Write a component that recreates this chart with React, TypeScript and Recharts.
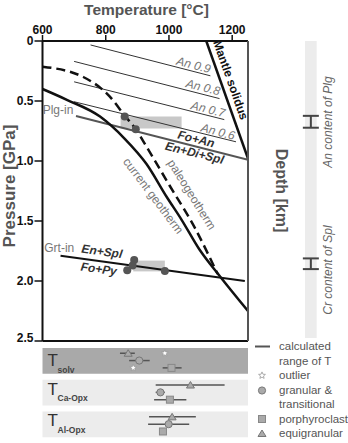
import {
  ComposedChart,
  ErrorBar,
  Line,
  ReferenceArea,
  ReferenceDot,
  Scatter,
  XAxis,
  YAxis,
} from "recharts";

const FONT = "'Liberation Sans', Arial, Helvetica, sans-serif";

// axes
const T_DOMAIN = [600, 1250];
const T_MAJOR = [600, 800, 1000, 1200];
const T_MINOR = [700, 900, 1100];
const P_TICKS = [0, 0.5, 1, 1.5, 2, 2.5];
const DEPTH_TICKS = [20, 40, 60];
const DEPTH_DOMAIN = [1.5, 75];

// P-T curves (T in °C, P in GPa)
const CURRENT_GEOTHERM = [
  { t: 600, p: 0.4 },
  { t: 677, p: 0.49 },
  { t: 782, p: 0.63 },
  { t: 861, p: 0.817 },
  { t: 929, p: 1.025 },
  { t: 993, p: 1.3 },
  { t: 1040, p: 1.49 },
  { t: 1097, p: 1.74 },
  { t: 1161, p: 1.96 },
  { t: 1250, p: 2.25 },
];
const PALEOGEOTHERM = [
  { t: 600, p: 0.214 },
  { t: 729, p: 0.3 },
  { t: 813, p: 0.464 },
  { t: 861, p: 0.625 },
  { t: 897, p: 0.742 },
  { t: 929, p: 0.881 },
  { t: 1001, p: 1.2 },
  { t: 1082, p: 1.558 },
  { t: 1154, p: 1.942 },
];
const MANTLE_SOLIDUS = [
  { t: 1118, p: 0 },
  { t: 1250, p: 0.98 },
];
const PLG_IN = [
  { t: 706, p: 0.625 },
  { t: 1250, p: 0.99 },
];
const GRT_IN = [
  { t: 657, p: 1.79 },
  { t: 1240, p: 2.0 },
];
const AN_ISOPLETHS = [
  { name: "An 0.9", data: [{ t: 752, p: 0.033 }, { t: 1131, p: 0.29 }] },
  { name: "An 0.8", data: [{ t: 700, p: 0.17 }, { t: 1160, p: 0.48 }] },
  { name: "An 0.7", data: [{ t: 700, p: 0.34 }, { t: 1175, p: 0.655 }] },
  { name: "An 0.6", data: [{ t: 700, p: 0.506 }, { t: 1212, p: 0.84 }] },
];

// equilibration fields and samples
const PLG_FIELD = { t1: 847, t2: 1040, p1: 0.63, p2: 0.73 };
const SPL_FIELD = { t1: 887, t2: 987, p1: 1.83, p2: 1.92 };
const PLG_SAMPLES = [
  { t: 860, p: 0.63 },
  { t: 895, p: 0.736 },
];
const SPL_SAMPLES = [
  { t: 890, p: 1.825 },
  { t: 885, p: 1.87 },
  { t: 868, p: 1.91 },
  { t: 987, p: 1.917 },
];

// thermometers: method index, mean T, range
const METHODS = ["solv", "Ca-Opx", "Al-Opx"];
const EQUIGRANULAR = [
  { m: 0, t: 871, lo: 845, hi: 892 },
  { m: 1, t: 1068, lo: 958, hi: 1176 },
  { m: 2, t: 1010, lo: 937, hi: 1085 },
];
const GRANULAR = [
  { m: 0, t: 906, lo: 874, hi: 939 },
  { m: 1, t: 973, lo: 958, hi: 987 },
  { m: 2, t: 999, lo: 934, hi: 1064 },
];
const PORPHYROCLAST = [
  { m: 0, t: 1008, lo: 980, hi: 1040 },
  { m: 1, t: 1003, lo: 953, hi: 1055 },
  { m: 2, t: 981, lo: 981, hi: 981 },
];
const OUTLIERS = [
  { m: 0, row: 2, t: 887 },
  { m: 0, row: 0, t: 987 },
];

const LINE_LABELS = [
  { text: "An 0.9", t: 1078, p: 0.2, rot: 14.5, kind: "an" },
  { text: "An 0.8", t: 1108, p: 0.386, rot: 14.2, kind: "an" },
  { text: "An 0.7", t: 1124, p: 0.569, rot: 14.1, kind: "an" },
  { text: "An 0.6", t: 1155, p: 0.756, rot: 14.4, kind: "an" },
  { text: "Mantle solidus", t: 1195, p: 0.325, rot: 70.6, kind: "solidus" },
  { text: "Plg-in", t: 649, p: 0.571, rot: 0, kind: "plain" },
  { text: "Fo+An", t: 1086, p: 0.817, rot: 14, kind: "phase" },
  { text: "En+Di+Spl", t: 1081, p: 0.933, rot: 14, kind: "phase" },
  { text: "current geotherm", t: 950, p: 1.29, rot: 53, kind: "plain" },
  { text: "paleogeotherm", t: 1072, p: 1.28, rot: 58, kind: "plain" },
  { text: "Grt-in", t: 653, p: 1.725, rot: 0, kind: "plain" },
  { text: "En+Spl", t: 788, p: 1.754, rot: 8, kind: "phase" },
  { text: "Fo+Py", t: 778, p: 1.9, rot: 8, kind: "phase" },
];

const LABEL_STYLE: Record<string, any> = {
  an: { fontSize: 12, fontStyle: "italic", fill: "#777" },
  solidus: { fontSize: 12, fontWeight: 700, fill: "#111" },
  plain: { fontSize: 12, fill: "#777" },
  phase: { fontSize: 12, fontWeight: 700, fontStyle: "italic", fill: "#333" },
};

const rowY = (m: number, row: number) => m + 0.165 + row * 0.23;
const withRange = (rows: typeof GRANULAR, row: number) =>
  rows.map((d) => ({ t: d.t, y: rowY(d.m, row), err: [d.t - d.lo, d.hi - d.t] }));

function starPoints(cx: number, cy: number, ro: number, ri: number) {
  const pts: string[] = [];
  for (let i = 0; i < 10; i++) {
    const r = i % 2 === 0 ? ro : ri;
    const a = -Math.PI / 2 + (i * Math.PI) / 5;
    pts.push(`${cx + r * Math.cos(a)},${cy + r * Math.sin(a)}`);
  }
  return pts.join(" ");
}

const Tri = ({ cx, cy }: any) => (
  <polygon
    points={`${cx - 4},${cy + 3} ${cx + 4},${cy + 3} ${cx},${cy - 3.5}`}
    fill="#aaa"
    stroke="#777"
  />
);
const Dot = ({ cx, cy }: any) => <circle cx={cx} cy={cy} r={3.6} fill="#aaa" stroke="#777" />;
const Sq = ({ cx, cy }: any) => (
  <rect x={cx - 3.5} y={cy - 3.5} width={7} height={7} fill="#aaa" stroke="#888" />
);
const Star = ({ cx, cy }: any) => (
  <polygon points={starPoints(cx, cy, 3.6, 1.6)} fill="#fff" stroke="#999" strokeWidth={0.8} />
);
const Sample = ({ cx, cy }: any) => <circle cx={cx} cy={cy} r={4} fill="#555" />;
const Nothing = () => <g />;

function MainChart() {
  const tick = { fontSize: 12, fontWeight: 700, fill: "#111" };
  // axes get a 1px box so they render; margins make up the rest of the plot offset
  return (
    <ComposedChart
      width={348}
      height={345}
      margin={{ top: 39, right: 99, bottom: 2, left: 41.5 }}
    >
      <XAxis
        xAxisId="t"
        orientation="top"
        type="number"
        dataKey="t"
        domain={T_DOMAIN}
        allowDataOverflow
        ticks={T_MAJOR}
        tickSize={6}
        tickMargin={1}
        height={1}
        tick={tick}
        axisLine={{ stroke: "#111", strokeWidth: 2 }}
        tickLine={{ stroke: "#111", strokeWidth: 1.5 }}
      />
      <XAxis
        xAxisId="tMinor"
        orientation="top"
        type="number"
        domain={T_DOMAIN}
        ticks={T_MINOR}
        tickSize={3}
        height={1}
        tickFormatter={() => ""}
        axisLine={false}
        tickLine={{ stroke: "#111" }}
      />
      <XAxis
        xAxisId="tBottom"
        orientation="bottom"
        type="number"
        domain={T_DOMAIN}
        ticks={T_MAJOR}
        tickSize={6}
        height={1}
        tickFormatter={() => ""}
        axisLine={{ stroke: "#111", strokeWidth: 2 }}
        tickLine={{ stroke: "#111", strokeWidth: 1.5 }}
      />
      <XAxis
        xAxisId="tBottomMinor"
        orientation="bottom"
        type="number"
        domain={T_DOMAIN}
        ticks={T_MINOR}
        tickSize={3}
        height={1}
        tickFormatter={() => ""}
        axisLine={false}
        tickLine={{ stroke: "#111" }}
      />
      <YAxis
        yAxisId="p"
        type="number"
        dataKey="p"
        domain={[0, 2.5]}
        allowDataOverflow
        reversed
        ticks={P_TICKS}
        tickSize={8}
        tickMargin={1}
        width={1}
        tick={tick}
        tickFormatter={(v: number) => (v === 0 ? "0" : v.toFixed(1))}
        axisLine={{ stroke: "#111", strokeWidth: 2 }}
        tickLine={{ stroke: "#111", strokeWidth: 1.5 }}
      />
      <YAxis
        yAxisId="depth"
        orientation="right"
        type="number"
        domain={DEPTH_DOMAIN}
        reversed
        ticks={DEPTH_TICKS}
        tickSize={6}
        tickMargin={3}
        width={1}
        tick={{ ...tick, fill: "#444" }}
        axisLine={{ stroke: "#555", strokeWidth: 2 }}
        tickLine={{ stroke: "#555", strokeWidth: 1.5 }}
      />

      <ReferenceArea
        xAxisId="t"
        yAxisId="p"
        x1={PLG_FIELD.t1}
        x2={PLG_FIELD.t2}
        y1={PLG_FIELD.p1}
        y2={PLG_FIELD.p2}
        fill="#c8c8c8"
        fillOpacity={1}
        stroke="none"
      />
      <ReferenceArea
        xAxisId="t"
        yAxisId="p"
        x1={SPL_FIELD.t1}
        x2={SPL_FIELD.t2}
        y1={SPL_FIELD.p1}
        y2={SPL_FIELD.p2}
        fill="#c8c8c8"
        fillOpacity={1}
        stroke="none"
      />

      {AN_ISOPLETHS.map((a) => (
        <Line
          key={a.name}
          xAxisId="t"
          yAxisId="p"
          data={a.data}
          dataKey="p"
          type="linear"
          stroke="#333"
          strokeWidth={1}
          dot={false}
          isAnimationActive={false}
        />
      ))}
      <Line
        xAxisId="t"
        yAxisId="p"
        data={PLG_IN}
        dataKey="p"
        type="linear"
        stroke="#555"
        strokeWidth={2}
        dot={false}
        isAnimationActive={false}
      />
      <Line
        xAxisId="t"
        yAxisId="p"
        data={GRT_IN}
        dataKey="p"
        type="linear"
        stroke="#111"
        strokeWidth={2}
        dot={false}
        isAnimationActive={false}
      />
      <Line
        xAxisId="t"
        yAxisId="p"
        data={MANTLE_SOLIDUS}
        dataKey="p"
        type="linear"
        stroke="#111"
        strokeWidth={2.5}
        dot={false}
        isAnimationActive={false}
      />
      <Line
        xAxisId="t"
        yAxisId="p"
        data={CURRENT_GEOTHERM}
        dataKey="p"
        type="monotone"
        stroke="#111"
        strokeWidth={2.5}
        dot={false}
        isAnimationActive={false}
      />
      <Line
        xAxisId="t"
        yAxisId="p"
        data={PALEOGEOTHERM}
        dataKey="p"
        type="monotone"
        stroke="#111"
        strokeWidth={2.5}
        strokeDasharray="9 5"
        dot={false}
        isAnimationActive={false}
      />
      <Scatter
        xAxisId="t"
        yAxisId="p"
        data={[...PLG_SAMPLES, ...SPL_SAMPLES]}
        shape={Sample}
        isAnimationActive={false}
      />

      {LINE_LABELS.map((l) => (
        <ReferenceDot
          key={l.text}
          xAxisId="t"
          yAxisId="p"
          x={l.t}
          y={l.p}
          r={0}
          shape={(props: any) => (
            <text
              x={props.cx}
              y={props.cy}
              textAnchor="middle"
              dominantBaseline="central"
              transform={`rotate(${l.rot} ${props.cx} ${props.cy})`}
              style={LABEL_STYLE[l.kind]}
            >
              {l.text}
            </text>
          )}
        />
      ))}
    </ComposedChart>
  );
}

// grey strip on the right with the pressure ranges from plagioclase / spinel chemistry
function CompositionStrip() {
  const ranges = [PLG_FIELD, SPL_FIELD].map((f) => ({
    x: 0.5,
    p: (f.p1 + f.p2) / 2,
    err: (f.p2 - f.p1) / 2,
  }));
  return (
    <ComposedChart
      width={348}
      height={345}
      margin={{ top: 41, right: 31.3, bottom: 7, left: 305 }}
    >
      <XAxis xAxisId="c" type="number" dataKey="x" domain={[0, 1]} hide />
      <YAxis yAxisId="p" type="number" dataKey="p" domain={[0, 2.5]} reversed hide />
      <ReferenceArea
        xAxisId="c"
        yAxisId="p"
        x1={0}
        x2={1}
        y1={0}
        y2={2.5}
        fill="#ececec"
        fillOpacity={1}
        stroke="none"
      />
      <Scatter
        xAxisId="c"
        yAxisId="p"
        data={ranges}
        shape={Nothing}
        isAnimationActive={false}
      >
        <ErrorBar dataKey="err" direction="y" width={8} stroke="#444" strokeWidth={2} />
      </Scatter>
    </ComposedChart>
  );
}

function ThermometerPanels() {
  const outliers = OUTLIERS.map((o) => ({ t: o.t, y: rowY(o.m, o.row) }));
  const series = [
    { key: "equi", data: withRange(EQUIGRANULAR, 0), shape: Tri },
    { key: "gran", data: withRange(GRANULAR, 1), shape: Dot },
    { key: "porph", data: withRange(PORPHYROCLAST, 2), shape: Sq },
  ];
  return (
    <ComposedChart
      width={348}
      height={102}
      margin={{ top: 7, right: 100, bottom: 1, left: 42.5 }}
    >
      <XAxis xAxisId="t" type="number" dataKey="t" domain={T_DOMAIN} hide />
      <YAxis yAxisId="y" type="number" dataKey="y" domain={[0, 2.956]} reversed hide />
      {METHODS.map((m, i) => (
        <ReferenceArea
          key={m}
          xAxisId="t"
          yAxisId="y"
          x1={T_DOMAIN[0]}
          x2={T_DOMAIN[1]}
          y1={i}
          y2={i + 0.81}
          fill={i === 0 ? "#a9a9a9" : "#ececec"}
          fillOpacity={1}
          stroke="none"
        />
      ))}
      {/* ranges first so the symbols sit on top of them */}
      {series.map((s) => (
        <Scatter
          key={s.key + "-range"}
          xAxisId="t"
          yAxisId="y"
          data={s.data}
          shape={Nothing}
          isAnimationActive={false}
        >
          <ErrorBar dataKey="err" direction="x" width={0} stroke="#555" strokeWidth={1.5} />
        </Scatter>
      ))}
      {series.map((s) => (
        <Scatter
          key={s.key}
          xAxisId="t"
          yAxisId="y"
          data={s.data}
          shape={s.shape}
          isAnimationActive={false}
        />
      ))}
      <Scatter xAxisId="t" yAxisId="y" data={outliers} shape={Star} isAnimationActive={false} />
    </ComposedChart>
  );
}

function Annotations() {
  const title = { fontSize: 16, fontWeight: 700, fill: "#555" };
  const legendText = { fontSize: 11.5, fill: "#555" };
  const side = { fontSize: 12, fontStyle: "italic", fill: "#666" };
  const panelRows = [
    { t: 366, s: 373 },
    { t: 395, s: 401 },
    { t: 426, s: 432.5 },
  ];
  return (
    <svg
      width={348}
      height={443}
      style={{ position: "absolute", left: 0, top: 0, pointerEvents: "none" }}
    >
      <text x={146.5} y={15} textAnchor="middle" style={{ ...title, fontSize: 15.5 }}>
        Temperature [°C]
      </text>
      <text
        x={9}
        y={186}
        textAnchor="middle"
        dominantBaseline="central"
        transform="rotate(-90 9 186)"
        style={{ ...title, fontSize: 17 }}
      >
        Pressure [GPa]
      </text>
      <text
        x={281.7}
        y={190.5}
        textAnchor="middle"
        dominantBaseline="central"
        transform="rotate(90 281.7 190.5)"
        style={title}
      >
        Depth [km]
      </text>
      <text
        x={328}
        y={122}
        textAnchor="middle"
        dominantBaseline="central"
        transform="rotate(-90 328 122)"
        style={side}
      >
        An content of Plg
      </text>
      <text
        x={328}
        y={270}
        textAnchor="middle"
        dominantBaseline="central"
        transform="rotate(-90 328 270)"
        style={side}
      >
        Cr content of Spl
      </text>

      {METHODS.map((m, i) => (
        <g key={m}>
          <text x={47.5} y={panelRows[i].t} style={{ fontSize: 17, fill: "#333" }}>
            T
          </text>
          <text x={57.5} y={panelRows[i].s} style={{ fontSize: 8.5, fontWeight: 700, fill: "#444" }}>
            {m}
          </text>
        </g>
      ))}

      <line x1={255} y1={346.5} x2={270} y2={346.5} stroke="#555" strokeWidth={2} />
      <text x={279} y={350} style={legendText}>calculated</text>
      <text x={279} y={364.5} style={legendText}>range of T</text>
      <Star cx={262} cy={375.5} />
      <text x={279} y={379} style={legendText}>outlier</text>
      <Dot cx={262} cy={390.5} />
      <text x={279} y={393.5} style={legendText}>granular &amp;</text>
      <text x={279} y={408} style={legendText}>transitional</text>
      <Sq cx={262} cy={419} />
      <text x={279} y={422.5} style={legendText}>porphyroclast</text>
      <Tri cx={262} cy={433.5} />
      <text x={279} y={437} style={legendText}>equigranular</text>
    </svg>
  );
}

export default function App() {
  return (
    <div
      style={{
        position: "absolute",
        left: 0,
        top: 0,
        width: 348,
        height: 443,
        background: "#fff",
        fontFamily: FONT,
        overflow: "hidden",
      }}
    >
      <div style={{ position: "absolute", left: 0, top: 0 }}>
        <CompositionStrip />
      </div>
      <div style={{ position: "absolute", left: 0, top: 0 }}>
        <MainChart />
      </div>
      <div style={{ position: "absolute", left: 0, top: 341 }}>
        <ThermometerPanels />
      </div>
      <Annotations />
    </div>
  );
}
